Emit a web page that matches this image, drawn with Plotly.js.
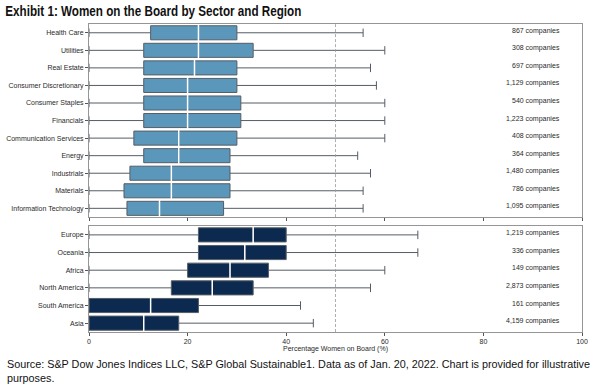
<!DOCTYPE html>
<html>
<head>
<meta charset="utf-8">
<script src="https://cdn.plot.ly/plotly-3.0.1.min.js"></script>
<style>html,body{margin:0;padding:0;background:#fff;}#chart{width:593px;height:386px;}</style>
</head>
<body>
<div id="chart"></div>
<script>
// ---- Data ----
var sectors = ["Health Care","Utilities","Real Estate","Consumer Discretionary","Consumer Staples","Financials","Communication Services","Energy","Industrials","Materials","Information Technology"];
var sectorQ1 =     [12.5, 11.1, 11.1, 11.1, 11.1, 11.1,  9.1, 11.1,  8.3,  7.1,  7.7];
var sectorMedian = [22.2, 22.2, 21.4, 20.0, 20.0, 20.0, 18.2, 18.2, 16.7, 16.7, 14.3];
var sectorQ3 =     [30.0, 33.3, 30.0, 30.0, 30.8, 30.8, 30.0, 28.6, 28.6, 28.6, 27.3];
var sectorLow =    [0, 0, 0, 0, 0, 0, 0, 0, 0, 0, 0];
var sectorHigh =   [55.6, 60.0, 57.1, 58.3, 60.0, 60.0, 60.0, 54.5, 57.1, 55.6, 55.6];
var sectorCounts = ["867 companies","308 companies","697 companies","1,129 companies","540 companies","1,223 companies","408 companies","364 companies","1,480 companies","786 companies","1,095 companies"];

var regions = ["Europe","Oceania","Africa","North America","South America","Asia"];
var regionQ1 =     [22.2, 22.2, 20.0, 16.7,  0.0,  0.0];
var regionMedian = [33.3, 31.6, 28.6, 25.0, 12.5, 11.1];
var regionQ3 =     [40.0, 40.0, 36.4, 33.3, 22.2, 18.2];
var regionLow =    [0, 0, 0, 0, 0, 0];
var regionHigh =   [66.7, 66.7, 60.0, 57.1, 42.9, 45.5];
var regionCounts = ["1,219 companies","336 companies","149 companies","2,873 companies","161 companies","4,159 companies"];

var xTicks = [0, 20, 40, 60, 80, 100];
var referenceLine = 50;

// ---- Styles ----
var lightBlue = "#5b97bb";
var navy = "#0c2a50";
var whiskerGrey = "#555d64";
var frameGrey = "#959595";
var txt = "#2a2a2a";
var font = "Liberation Sans, Arial, sans-serif";

function boxTrace(cats, q1, med, q3, lo, hi, fill, outline, xa, ya) {
  return {
    type: "box", orientation: "h",
    y: cats, q1: q1, median: med, q3: q3, lowerfence: lo, upperfence: hi,
    xaxis: xa, yaxis: ya,
    fillcolor: fill, line: {color: outline, width: 1},
    whiskerwidth: 0.6, width: 0.8, boxpoints: false,
    hoverinfo: "skip", showlegend: false
  };
}
function medianTrace(cats, med, xa, ya) {
  return {
    type: "scatter", mode: "markers", x: med, y: cats, xaxis: xa, yaxis: ya,
    marker: {symbol: "line-ns", size: 13, color: "#ffffff", line: {color: "#ffffff", width: 1.5}},
    hoverinfo: "skip", showlegend: false, cliponaxis: false
  };
}

var data = [
  boxTrace(sectors, sectorQ1, sectorMedian, sectorQ3, sectorLow, sectorHigh, lightBlue, whiskerGrey, "x", "y"),
  medianTrace(sectors, sectorMedian, "x", "y"),
  boxTrace(regions, regionQ1, regionMedian, regionQ3, regionLow, regionHigh, navy, whiskerGrey, "x2", "y2"),
  medianTrace(regions, regionMedian, "x2", "y2")
];

var annotations = [];
sectors.forEach(function(s, i) {
  annotations.push({xref: "x", yref: "y", x: 96, y: s, text: sectorCounts[i], xanchor: "right", yanchor: "middle",
    yshift: 2, showarrow: false, font: {family: font, size: 7, color: txt}});
});
regions.forEach(function(s, i) {
  annotations.push({xref: "x2", yref: "y2", x: 96, y: s, text: regionCounts[i], xanchor: "right", yanchor: "middle",
    yshift: 2, showarrow: false, font: {family: font, size: 7, color: txt}});
});
annotations.push({
  xref: "paper", yref: "paper", x: -0.17, y: -0.078, xanchor: "left", yanchor: "top", align: "left",
  showarrow: false,
  text: "Source: S&P Dow Jones Indices LLC, S&P Global Sustainable1. Data as of Jan. 20, 2022. Chart is provided for illustrative<br>purposes.",
  font: {family: font, size: 10.8, color: "#111"}
});

var axisCommon = {
  range: [0, 100], tickvals: xTicks, ticks: "outside", ticklen: 3, tickcolor: "#555",
  showline: true, linecolor: frameGrey, linewidth: 1, mirror: true,
  showgrid: false, zeroline: false, fixedrange: true,
  tickfont: {family: font, size: 7, color: txt}
};

var layout = {
  width: 593, height: 386,
  margin: {l: 89, r: 11, t: 24, b: 54},
  paper_bgcolor: "#fff", plot_bgcolor: "#fff",
  title: {text: "Exhibit 1: Women on the Board by Sector and Region", x: 0.009, xanchor: "left", y: 0.972, yanchor: "middle",
    font: {family: "Liberation Sans, Arial, sans-serif", size: 14.5, color: "#111", weight: "bold"}},
  xaxis: Object.assign({}, axisCommon, {anchor: "y", showticklabels: false, domain: [0, 1]}),
  xaxis2: Object.assign({}, axisCommon, {anchor: "y2", matches: "x", domain: [0, 1],
    title: {text: "Percentage Women on Board (%)", standoff: 0, font: {family: font, size: 7, color: txt}}}),
  yaxis: {domain: [0.373, 1], type: "category", categoryorder: "array", categoryarray: sectors,
    range: [sectors.length - 0.5, -0.5], ticks: "outside", ticklen: 3, tickcolor: "#555",
    showline: true, linecolor: frameGrey, mirror: true, showgrid: false, zeroline: false, fixedrange: true,
    tickfont: {family: font, size: 7, color: txt}, anchor: "x"},
  yaxis2: {domain: [0, 0.344], type: "category", categoryorder: "array", categoryarray: regions,
    range: [regions.length - 0.5, -0.5], ticks: "outside", ticklen: 3, tickcolor: "#555",
    showline: true, linecolor: frameGrey, mirror: true, showgrid: false, zeroline: false, fixedrange: true,
    tickfont: {family: font, size: 7, color: txt}, anchor: "x2"},
  shapes: [
    {type: "line", xref: "x", yref: "y domain", x0: referenceLine, x1: referenceLine, y0: 0, y1: 1,
      line: {color: "#9a9a9a", width: 0.8, dash: "3px,2px"}, layer: "above"},
    {type: "line", xref: "x2", yref: "y2 domain", x0: referenceLine, x1: referenceLine, y0: 0, y1: 1,
      line: {color: "#9a9a9a", width: 0.8, dash: "3px,2px"}, layer: "above"}
  ],
  annotations: annotations
};

Plotly.newPlot("chart", data, layout, {displayModeBar: false, staticPlot: true}).then(function(gd) {
  // Condense the title horizontally to mimic the narrow bold face of the original.
  var t = gd.querySelector(".gtitle");
  if (t) {
    t.setAttribute("textLength", "296");
    t.setAttribute("lengthAdjust", "spacingAndGlyphs");
  }
});
</script>
</body>
</html>
